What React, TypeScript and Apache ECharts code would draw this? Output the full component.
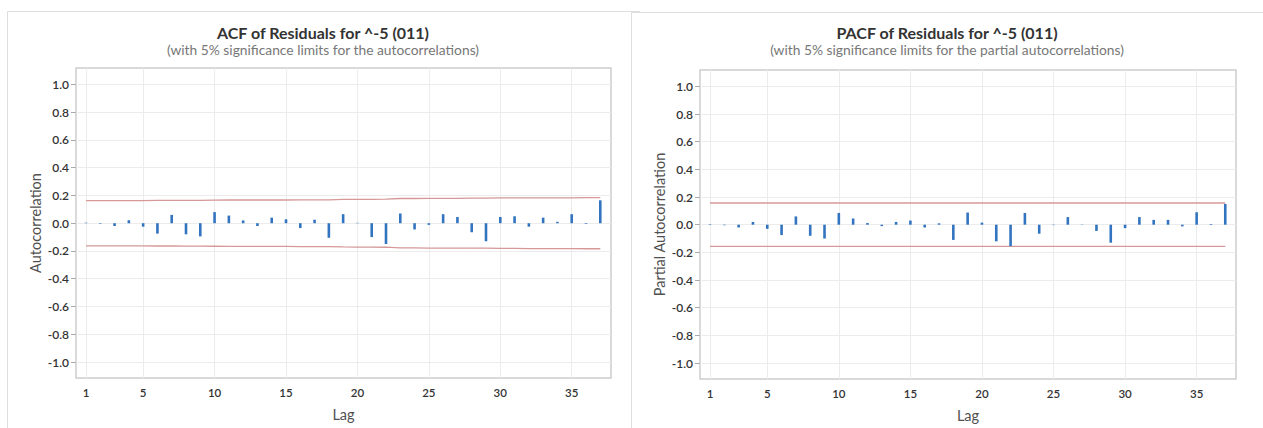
import React, { useEffect, useRef } from "react";
import * as echarts from "echarts";

const lags = [1, 2, 3, 4, 5, 6, 7, 8, 9, 10, 11, 12, 13, 14, 15, 16, 17, 18, 19, 20, 21, 22, 23, 24, 25, 26, 27, 28, 29, 30, 31, 32, 33, 34, 35, 36, 37];

const acfValues = [0.004, -0.004, -0.02, 0.022, -0.025, -0.075, 0.06, -0.08, -0.095, 0.08, 0.055, 0.02, -0.02, 0.04, 0.028, -0.035, 0.025, -0.105, 0.065, 0.003, -0.1, -0.15, 0.07, -0.045, -0.012, 0.065, 0.045, -0.065, -0.13, 0.045, 0.05, -0.025, 0.04, 0.01, 0.065, -0.005, 0.165];

const pacfValues = [0.004, -0.004, -0.02, 0.02, -0.03, -0.075, 0.06, -0.08, -0.1, 0.085, 0.045, 0.012, -0.01, 0.02, 0.03, -0.02, 0.01, -0.11, 0.088, 0.015, -0.12, -0.155, 0.085, -0.065, -0.003, 0.055, 0.002, -0.045, -0.13, -0.025, 0.055, 0.035, 0.035, -0.012, 0.09, 0.005, 0.15];

const acfLimits = [0.163, 0.163, 0.163, 0.163, 0.163, 0.164, 0.164, 0.165, 0.165, 0.166, 0.167, 0.167, 0.167, 0.167, 0.167, 0.168, 0.168, 0.168, 0.171, 0.172, 0.172, 0.173, 0.178, 0.178, 0.179, 0.179, 0.179, 0.18, 0.18, 0.182, 0.182, 0.183, 0.183, 0.183, 0.183, 0.184, 0.184];

const pacfLimit = 0.157;

const xTickValues = [1, 5, 10, 15, 20, 25, 30, 35];
const yTickValues = [-1.0, -0.8, -0.6, -0.4, -0.2, 0.0, 0.2, 0.4, 0.6, 0.8, 1.0];

const titles = ["ACF of Residuals for ^-5 (011)", "PACF of Residuals for ^-5 (011)"];
const subtitles = [
  "(with 5% significance limits for the autocorrelations)",
  "(with 5% significance limits for the partial autocorrelations)",
];
const yNames = ["Autocorrelation", "Partial Autocorrelation"];

const FONT = "Lato, 'Noto Sans', sans-serif";
const BAR_COLOR = "#3274bf";
const LIMIT_COLOR = "#d69898";
const GRID_LINE = "#ececec";

function makeXAxis(idx: number) {
  return {
    type: "value",
    gridIndex: idx,
    min: 0.3,
    max: 37.75,
    name: "Lag",
    nameLocation: "middle",
    nameGap: 29,
    nameTextStyle: { fontFamily: FONT, fontSize: 14.5, color: "#505050" },
    axisLine: { show: false },
    axisTick: { show: false, customValues: xTickValues },
    axisLabel: {
      customValues: xTickValues,
      fontFamily: FONT,
      fontSize: 11.5,
      fontWeight: 600,
      color: "#333",
      margin: 8,
    },
    splitLine: { show: true, lineStyle: { color: GRID_LINE, width: 1 } },
  };
}

function makeYAxis(idx: number) {
  return {
    type: "value",
    gridIndex: idx,
    min: -1.115,
    max: 1.118,
    name: yNames[idx],
    nameLocation: "middle",
    nameGap: 33,
    nameRotate: 90,
    nameTextStyle: { fontFamily: FONT, fontSize: 14.5, color: "#505050" },
    axisLine: { show: false },
    axisTick: {
      show: true,
      customValues: yTickValues,
      length: 5,
      lineStyle: { color: "#aaa" },
    },
    axisLabel: {
      customValues: yTickValues,
      formatter: (v: number) => v.toFixed(1),
      fontFamily: FONT,
      fontSize: 12,
      fontWeight: 600,
      color: "#333",
      margin: 7,
    },
    splitLine: { show: true, lineStyle: { color: GRID_LINE, width: 1 } },
  };
}

export default function App() {
  const ref = useRef<HTMLDivElement>(null);
  useEffect(() => {
    if (!ref.current) return;
    const chart = echarts.init(ref.current, undefined, { renderer: "svg" });

    const acfUpper = lags.map((l, i) => [l, acfLimits[i]]);
    const acfLower = lags.map((l, i) => [l, -acfLimits[i]]);
    const pacfUpper = [[lags[0], pacfLimit], [lags[lags.length - 1], pacfLimit]];
    const pacfLower = [[lags[0], -pacfLimit], [lags[lags.length - 1], -pacfLimit]];

    const limitLine = (xi: number, data: number[][]) => ({
      type: "line",
      xAxisIndex: xi,
      yAxisIndex: xi,
      data,
      showSymbol: false,
      symbol: "none",
      lineStyle: { color: LIMIT_COLOR, width: 1.3 },
      z: 3,
    });

    const titleGraphic = (cx: number, i: number) => [
      {
        type: "text",
        x: cx,
        y: 32,
        style: {
          text: titles[i],
          font: `bold 16px ${FONT}`,
          fill: "#333",
          align: "center",
          textAlign: "center",
          verticalAlign: "middle",
          textVerticalAlign: "middle",
        },
      },
      {
        type: "text",
        x: cx,
        y: 49.5,
        style: {
          text: subtitles[i],
          font: `13.8px ${FONT}`,
          fill: "#777",
          align: "center",
          textAlign: "center",
          verticalAlign: "middle",
          textVerticalAlign: "middle",
        },
      },
    ];

    chart.setOption({
      animation: false,
      backgroundColor: "#ffffff",
      grid: [
        { left: 76, top: 68, width: 535, height: 310, show: true, borderColor: "#cdcdcd", borderWidth: 1.5 },
        { left: 700, top: 70, width: 536, height: 311, show: true, borderColor: "#cdcdcd", borderWidth: 1.5 },
      ],
      xAxis: [makeXAxis(0), makeXAxis(1)],
      yAxis: [makeYAxis(0), makeYAxis(1)],
      series: [
        limitLine(0, acfUpper),
        limitLine(0, acfLower),
        {
          type: "bar",
          xAxisIndex: 0,
          yAxisIndex: 0,
          data: lags.map((l, i) => [l, acfValues[i]]),
          barWidth: 2.6,
          itemStyle: { color: BAR_COLOR },
          z: 4,
        },
        limitLine(1, pacfUpper),
        limitLine(1, pacfLower),
        {
          type: "bar",
          xAxisIndex: 1,
          yAxisIndex: 1,
          data: lags.map((l, i) => [l, pacfValues[i]]),
          barWidth: 2.6,
          itemStyle: { color: BAR_COLOR },
          z: 4,
        },
      ],
      graphic: [
        {
          type: "polyline",
          shape: { points: [[7.5, 440], [7.5, 11.5], [640, 11.5]] },
          style: { stroke: "#dedede", lineWidth: 1, fill: null },
          silent: true,
        },
        {
          type: "polyline",
          shape: { points: [[631.5, 440], [631.5, 12.5], [1263, 12.5]] },
          style: { stroke: "#dedede", lineWidth: 1, fill: null },
          silent: true,
        },
        ...titleGraphic(323, 0),
        ...titleGraphic(947, 1),
      ],
    });
    return () => chart.dispose();
  }, []);

  return (
    <div
      ref={ref}
      style={{ position: "fixed", left: 0, top: 0, width: 1263, height: 428, background: "#fff" }}
    />
  );
}
